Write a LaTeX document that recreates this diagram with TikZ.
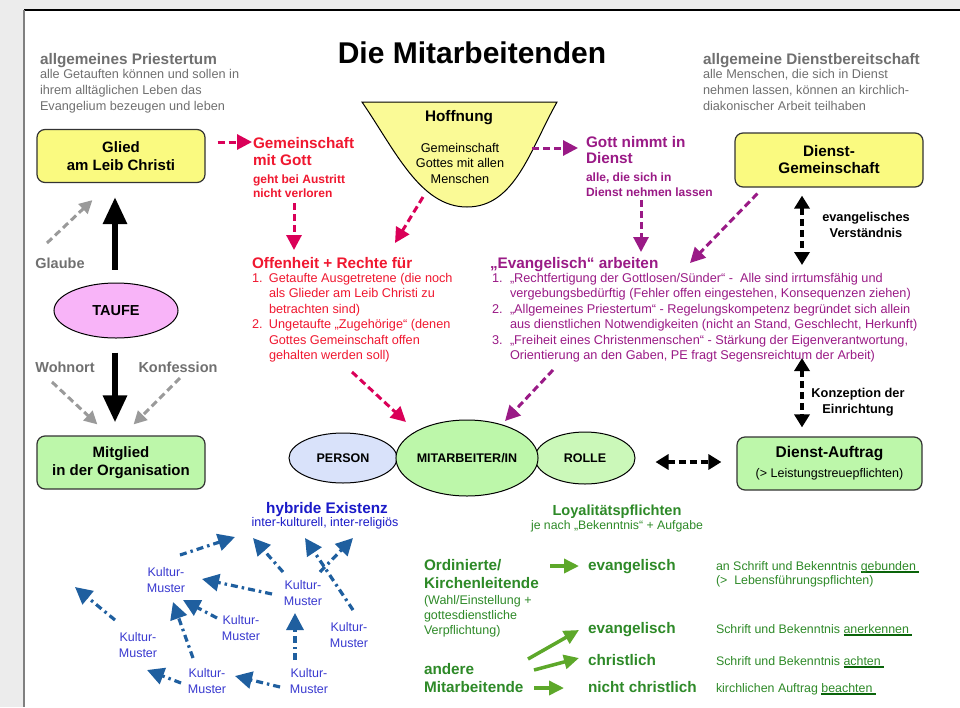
\documentclass[tikz,border=0pt]{standalone}
\usepackage{fontspec}
\setmainfont{Liberation Sans}
\usetikzlibrary{arrows.meta,shapes.geometric}

\definecolor{pagegray}{HTML}{ECECEC}
\definecolor{txtgray}{HTML}{707070}
\definecolor{arrgray}{HTML}{9A9A9A}
\definecolor{yellowbox}{HTML}{FAFA80}
\definecolor{funnelfill}{HTML}{FAFA96}
\definecolor{greenbox}{HTML}{BDF7AA}
\definecolor{greenlight}{HTML}{CBF8B9}
\definecolor{pinkfill}{HTML}{F8B4F8}
\definecolor{bluefill}{HTML}{D9E2FA}
\definecolor{redtxt}{HTML}{F01830}
\definecolor{redarr}{HTML}{DA0058}
\definecolor{purp}{HTML}{9A1A86}
\definecolor{hybblue}{HTML}{1A1AC8}
\definecolor{kulblue}{HTML}{3A3AD0}
\definecolor{bluearr}{HTML}{1F5F9F}
\definecolor{gtxt}{HTML}{2E8A28}
\definecolor{garr}{HTML}{5DA82A}
\definecolor{ulgreen}{HTML}{0A640A}

\newcommand{\mytl}[1]{\begin{tabular}[t]{@{}l@{}}#1\end{tabular}}
\newcommand{\mytc}[1]{\begin{tabular}[t]{@{}c@{}}#1\end{tabular}}
\newcommand{\mylist}[2]{\begin{tabular}[t]{@{}p{#1}@{}l@{}}#2\end{tabular}}
\newcommand{\myul}[1]{\setbox0=\hbox{#1\ }\rlap{\textcolor{ulgreen}{\rule[-2.6pt]{\wd0}{1.3pt}}}#1}
\newcommand{\fhead}{\fontsize{15.3}{17}\selectfont\bfseries}
\newcommand{\fbody}{\fontsize{12.7}{15.5}\selectfont}

\tikzset{
  lbl/.style={inner sep=0pt, outer sep=0pt},
  box/.style={draw=black!80, line width=1.2pt, rounded corners=8pt, align=center, inner sep=0pt,
              font=\fontsize{15}{18}\selectfont\bfseries},
  ell/.style={ellipse, draw=black, line width=1pt, inner sep=0pt, font=\fontsize{12.5}{14}\selectfont\bfseries},
  bigarrow/.style={line width=6pt, -{Triangle[length=27pt,width=23pt]}},
  grayarrow/.style={draw=arrgray, line width=3pt, dash pattern=on 7pt off 4pt, -{Triangle[length=13pt,width=13pt]}},
  redarrow/.style={draw=redarr, line width=3pt, dash pattern=on 7pt off 4pt, -{Triangle[length=15pt,width=15pt]}},
  purparrow/.style={draw=purp, line width=3pt, dash pattern=on 7pt off 4pt, -{Triangle[length=15pt,width=15pt]}},
  blkdbl/.style={line width=3.5pt, dash pattern=on 7pt off 4pt, {Triangle[length=13pt,width=15pt]}-{Triangle[length=13pt,width=15pt]}},
  greenarrow/.style={draw=garr, line width=3.5pt, -{Triangle[length=15pt,width=14pt]}},
  bluearrow/.style={draw=bluearr, line width=3.2pt, dash pattern=on 7pt off 4pt on 2.5pt off 4pt, -{Triangle[length=17pt,width=17pt]}},
}

\begin{document}
\begin{tikzpicture}[x=1pt,y=-1pt]
\useasboundingbox (0,0) rectangle (960,707);
% page
\fill[pagegray] (0,0) rectangle (960,707);
\fill[white] (24,10) rectangle (960,707);
\draw[black, line width=1.2pt] (24,10) -- (960,10);
\draw[black!50, line width=2pt] (24,10) -- (24,707);

% title
\node[lbl, anchor=base, font=\fontsize{30}{32}\selectfont\bfseries] (title) at (472,63) {Die Mitarbeitenden};

% gray headers
\node[lbl, anchor=base west, text=txtgray, font=\fhead] (priestT) at (40,64) {allgemeines Priestertum};
\node[lbl, anchor=base west, text=txtgray, font=\fontsize{12.7}{16}\selectfont] (priestB) at (40,78)
  {\mytl{alle Getauften können und sollen in\\ihrem alltäglichen Leben das\\Evangelium bezeugen und leben}};
\node[lbl, anchor=base west, text=txtgray, font=\fhead] (dbT) at (703,64) {allgemeine Dienstbereitschaft};
\node[lbl, anchor=base west, text=txtgray, font=\fontsize{12.7}{16}\selectfont] (dbB) at (703,78)
  {\mytl{alle Menschen, die sich in Dienst\\nehmen lassen, können an kirchlich-\\diakonischer Arbeit teilhaben}};

% left column
\node[box, fill=yellowbox, minimum width=168pt, minimum height=53pt] (glied) at (121,156) {Glied\\am Leib Christi};
\node[ell, fill=pinkfill, minimum width=124pt, minimum height=55pt, font=\fontsize{14.5}{16}\selectfont\bfseries] (taufe) at (116,310.5) {TAUFE};
\node[box, fill=greenbox, minimum width=168pt, minimum height=53pt] (mitglied) at (121,462.5) {Mitglied\\in der Organisation};
\node[lbl, anchor=base, text=txtgray, font=\fontsize{14.5}{16}\selectfont\bfseries] (glaube) at (60,268) {Glaube};
\node[lbl, anchor=base, text=txtgray, font=\fontsize{14.5}{16}\selectfont\bfseries] (wohn) at (65,372) {Wohnort};
\node[lbl, anchor=base, text=txtgray, font=\fontsize{14.5}{16}\selectfont\bfseries] (konf) at (178,372) {Konfession};

\draw[bigarrow] ([shift={(-1,-13)}]taufe.north) -- ([shift={(-6,14)}]glied.south);
\draw[bigarrow] ([shift={(-1,14)}]taufe.south) -- ([shift={(-6,-13)}]mitglied.north);
\draw[grayarrow] ([shift={(-13,-25)}]glaube.base) -- ([shift={(56,17)}]glied.south west);
\draw[grayarrow] ([shift={(-13,10)}]wohn.base) -- ([shift={(61,-11)}]mitglied.north west);
\draw[grayarrow] ([shift={(2,6)}]konf.base) -- ([shift={(-72,-11)}]mitglied.north east);

% funnel Hoffnung
\coordinate (fb) at (467,207);
\draw[fill=funnelfill, line width=1pt] (362,102) -- (557,102) .. controls (530,150) and (515,207) .. (fb)
   .. controls (420,207) and (395,150) .. (362,102) -- cycle;
\node[lbl, anchor=base, font=\fhead] (hoff) at (459,121) {Hoffnung};
\node[lbl, anchor=base, font=\fontsize{12.7}{15.5}\selectfont] (hoffB) at (460,152) {\mytc{Gemeinschaft\\Gottes mit allen\\Menschen}};

% red part
\node[lbl, anchor=base west, text=redtxt, font=\fontsize{15.3}{17.5}\selectfont\bfseries] (gemT) at (253,148) {\mytl{Gemeinschaft\\mit Gott}};
\node[lbl, anchor=base west, text=redtxt, font=\fontsize{12}{14.5}\selectfont\bfseries] (gemS) at (253,183) {\mytl{geht bei Austritt\\nicht verloren}};
\node[lbl, anchor=base west, text=redtxt, font=\fhead] (offT) at (252,268) {Offenheit + Rechte für};
\node[lbl, anchor=base west, text=redtxt, font=\fbody] (offL) at (252,282)
  {\mylist{17pt}{1. & Getaufte Ausgetretene (die noch\\ & als Glieder am Leib Christi zu\\ & betrachten sind)\\
   2. & Ungetaufte „Zugehörige“ (denen\\ & Gottes Gemeinschaft offen\\ & gehalten werden soll)}};

\draw[redarrow] ([shift={(12,-14)}]glied.east) -- ([shift={(-1,-6)}]gemT.base west);
\draw[redarrow] ([shift={(41,20)}]gemS.base west) -- ([shift={(42,-18)}]offT.base west);
\draw[redarrow] ([shift={(-44,-10)}]fb) -- ([shift={(143,-25)}]offT.base west);

% purple part
\node[lbl, anchor=base west, text=purp, font=\fontsize{15.3}{16}\selectfont\bfseries] (gott) at (586,147) {\mytl{Gott nimmt in\\Dienst}};
\node[lbl, anchor=base west, text=purp, font=\fontsize{12}{15}\selectfont\bfseries] (gottS) at (586,181) {\mytl{alle, die sich in\\Dienst nehmen lassen}};
\node[lbl, anchor=base west, text=purp, font=\fhead] (evT) at (490,268) {„Evangelisch“ arbeiten};
\node[lbl, anchor=base west, text=purp, font=\fbody] (evL) at (492,282)
  {\mylist{18pt}{1. & „Rechtfertigung der Gottlosen/Sünder“ -\ \ Alle sind irrtumsfähig und\\
   & vergebungsbedürftig (Fehler offen eingestehen, Konsequenzen ziehen)\\
   2. & „Allgemeines Priestertum“ - Regelungskompetenz begründet sich allein\\
   & aus dienstlichen Notwendigkeiten (nicht an Stand, Geschlecht, Herkunft)\\
   3. & „Freiheit eines Christenmenschen“ - Stärkung der Eigenverantwortung,\\
   & Orientierung an den Gaben, PE fragt Segensreichtum der Arbeit)}};

\draw[purparrow] ([shift={(65,-59)}]fb) -- ([shift={(-8,1)}]gott.base west);
\draw[purparrow] ([shift={(55,19)}]gottS.base west) -- ([shift={(151,-16)}]evT.base west);

% right column
\node[box, fill=yellowbox, minimum width=188pt, minimum height=54pt, font=\fontsize{15.3}{17}\selectfont\bfseries] (dg) at (829,160) {Dienst-\\Gemeinschaft};
\draw[purparrow] ([shift={(23,6)}]dg.south west) -- ([shift={(200,-5)}]evT.base west);
\coordinate (evv) at (802,265);
\draw[blkdbl] ([shift={(-27,8)}]dg.south) -- (evv);
\node[lbl, anchor=base, font=\fontsize{12.8}{16}\selectfont\bfseries] (evlabel) at (866,221) {\mytc{evangelisches\\Verständnis}};

\node[box, fill=greenbox, minimum width=185pt, minimum height=53pt] (da) at (829.5,463.5)
  {\begin{tabular}{@{}c@{}}{\fontsize{15.5}{17}\selectfont\bfseries Dienst-Auftrag}\\[2pt]{\fontsize{12.5}{15}\selectfont\mdseries (> Leistungstreuepflichten)}\end{tabular}};
\coordinate (konzTop) at (802,358);
\draw[blkdbl] (konzTop) -- ([shift={(-27.5,-9)}]da.north);
\node[lbl, anchor=base, font=\fontsize{12.8}{16}\selectfont\bfseries] (konzlabel) at (858,397) {\mytc{Konzeption der\\Einrichtung}};

% ellipses
\node[ell, fill=bluefill, minimum width=108pt, minimum height=50pt] (person) at (343,458) {PERSON};
\node[ell, fill=greenlight, minimum width=100pt, minimum height=52pt] (rolle) at (585,458) {ROLLE};
\node[ell, fill=greenbox, minimum width=140pt, minimum height=76pt] (mit) at (467,458) {MITARBEITER/IN};
\draw[blkdbl] ([shift={(20,4)}]rolle.east) -- ([shift={(-15,-1.5)}]da.west);
\draw[redarrow] ([shift={(100,104)}]offT.base west) -- ([shift={(-61,-36)}]mit.center);
\draw[purparrow] ([shift={(63,102)}]evT.base west) -- ([shift={(38,-37)}]mit.center);

% hybrid existence
\node[lbl, anchor=base, text=hybblue, font=\fhead] (hybT) at (327,513) {hybride Existenz};
\node[lbl, anchor=base, text=hybblue, font=\fontsize{12.5}{14}\selectfont] (hybS) at (325,526) {inter-kulturell, inter-religiös};
\foreach \n/\x/\y in {k1/166/576, k2/303/589, k3/241/624, k4/349/631, k5/138/641, k6/207/677, k7/309/677}
  \node[lbl, anchor=base, text=kulblue, font=\fontsize{12.5}{16}\selectfont] (\n) at (\x,\y) {\mytc{Kultur-\\Muster}};
\coordinate (kfree) at (75,587);
\draw[bluearrow] ([shift={(14,-21)}]k1.base) -- ([shift={(-90,11)}]hybS.base);
\draw[bluearrow] ([shift={(-20,-17)}]k2.base) -- ([shift={(-72,12)}]hybS.base);
\draw[bluearrow] ([shift={(4,-21)}]k4.base) -- ([shift={(-20,12)}]hybS.base);
\draw[bluearrow] ([shift={(17,-17)}]k2.base) -- ([shift={(28,12)}]hybS.base);
\draw[bluearrow] ([shift={(-31,5)}]k2.base) -- ([shift={(36,3)}]k1.base);
\draw[bluearrow] ([shift={(-24,-6)}]k3.base) -- ([shift={(17,24)}]k1.base);
\draw[bluearrow] ([shift={(-14,-19)}]k6.base) -- ([shift={(7,26)}]k1.base);
\draw[bluearrow] ([shift={(-23,-21)}]k5.base) -- (kfree);
\draw[bluearrow] ([shift={(-14,-17)}]k7.base) -- ([shift={(-8,24)}]k2.base);
\draw[bluearrow] ([shift={(-29,10)}]k7.base) -- ([shift={(28,-1)}]k6.base);
\draw[bluearrow] ([shift={(-26,6)}]k6.base) -- ([shift={(9,29)}]k5.base);

% loyalty
\node[lbl, anchor=base, text=gtxt, font=\fontsize{14.6}{16}\selectfont\bfseries] (loy) at (617,515) {Loyalitätspflichten};
\node[lbl, anchor=base, text=gtxt, font=\fontsize{12.3}{14}\selectfont] (loyS) at (617,529) {je nach „Bekenntnis“ + Aufgabe};
\node[lbl, anchor=base west, text=gtxt, font=\fontsize{15.3}{18.5}\selectfont\bfseries] (ord) at (424,570) {\mytl{Ordinierte/\\Kirchenleitende}};
\node[lbl, anchor=base west, text=gtxt, font=\fontsize{12.5}{15}\selectfont] (ordS) at (424,604) {\mytl{(Wahl/Einstellung +\\gottesdienstliche\\Verpflichtung)}};
\node[lbl, anchor=base west, text=gtxt, font=\fontsize{15.3}{18}\selectfont\bfseries] (andere) at (424,674) {\mytl{andere\\Mitarbeitende}};
\node[lbl, anchor=base west, text=gtxt, font=\fontsize{15.3}{17}\selectfont\bfseries] (ev1) at (588,570) {evangelisch};
\node[lbl, anchor=base west, text=gtxt, font=\fontsize{15.3}{17}\selectfont\bfseries] (ev2) at (588,633) {evangelisch};
\node[lbl, anchor=base west, text=gtxt, font=\fontsize{15.3}{17}\selectfont\bfseries] (christ) at (588,665) {christlich};
\node[lbl, anchor=base west, text=gtxt, font=\fontsize{15.3}{17}\selectfont\bfseries] (nicht) at (588,692) {nicht christlich};
\node[lbl, anchor=base west, text=gtxt, font=\fontsize{12.4}{14.5}\selectfont] (r1) at (716,570) {\mytl{an Schrift und Bekenntnis \myul{gebunden}\\(>\ \ Lebensführungspflichten)}};
\node[lbl, anchor=base west, text=gtxt, font=\fontsize{12.4}{14.5}\selectfont] (r2) at (716,633) {Schrift und Bekenntnis \myul{anerkennen}};
\node[lbl, anchor=base west, text=gtxt, font=\fontsize{12.4}{14.5}\selectfont] (r3) at (716,665) {Schrift und Bekenntnis \myul{achten}};
\node[lbl, anchor=base west, text=gtxt, font=\fontsize{12.4}{14.5}\selectfont] (r4) at (716,692) {kirchlichen Auftrag \myul{beachten}};
\draw[greenarrow] ([shift={(126,-4)}]ord.base west) -- ([shift={(-9,-4)}]ev1.base west);
\draw[greenarrow] ([shift={(104,-15)}]andere.base west) -- ([shift={(-9,-3)}]ev2.base west);
\draw[greenarrow] ([shift={(110,-4)}]andere.base west) -- ([shift={(-9,-7)}]christ.base west);
\draw[greenarrow] ([shift={(110,14)}]andere.base west) -- ([shift={(-24,-4)}]nicht.base west);
\end{tikzpicture}
\end{document}
